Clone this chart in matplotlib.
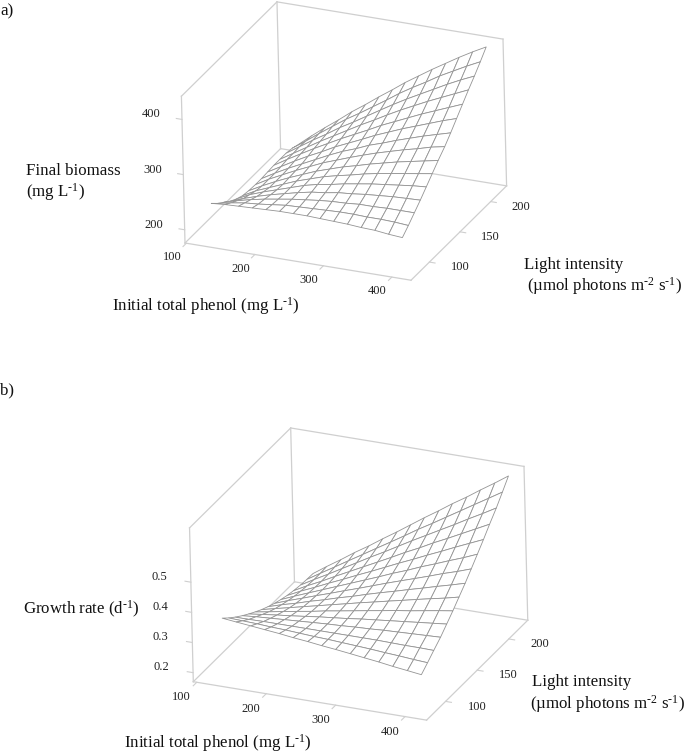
"""Two response surfaces (final biomass and growth rate) over phenol and light."""

import matplotlib
matplotlib.use("Agg")
import matplotlib.pyplot as plt
import numpy as np
from mpl_toolkits.mplot3d import proj3d

plt.rcParams["font.family"] = ["Liberation Serif", "DejaVu Serif"]
plt.rcParams["mathtext.fontset"] = "custom"
plt.rcParams["mathtext.rm"] = "Liberation Serif"
plt.rcParams["mathtext.default"] = "rm"

WIDTH, HEIGHT = 685, 754
BOX_COLOR = "#cfcfcf"
MESH_COLOR = "#949494"
TEXT_COLOR = "#222222"
ROLL = 1.4

phenol_a = [125, 145, 165, 185, 205, 225, 245, 265, 284, 304, 324, 344, 364, 384, 404]
light_a = [84, 94, 104, 114, 124, 134, 144, 155, 165, 175, 185, 195, 205, 215, 225]
phenol_b = [125, 145, 166, 186, 207, 227, 248, 268, 288, 309, 329, 350, 370, 391, 411]
light_b = [85, 95, 105, 116, 126, 136, 146, 156, 166, 176, 186, 196, 207, 217, 227]

# node heights are estimates: corners and edge points,
# the nodes between them judged from those readings
biomass = [
    [238, 240, 241, 242, 243, 244, 244, 244, 243, 242, 241, 239, 238, 235, 233],
    [227, 232, 236, 238, 241, 244, 245, 246, 247, 248, 248, 247, 247, 246, 244],
    [218, 225, 231, 236, 240, 244, 247, 250, 252, 253, 255, 255, 256, 256, 256],
    [209, 218, 226, 233, 239, 245, 250, 253, 257, 259, 262, 264, 266, 267, 268],
    [202, 214, 223, 231, 239, 247, 253, 257, 262, 266, 270, 273, 276, 279, 281],
    [197, 210, 220, 230, 240, 248, 256, 262, 267, 273, 278, 282, 286, 290, 294],
    [195, 208, 220, 231, 241, 251, 259, 267, 273, 280, 286, 292, 297, 302, 307],
    [194, 208, 220, 232, 243, 254, 263, 272, 280, 288, 295, 302, 308, 315, 320],
    [194, 208, 221, 233, 245, 257, 268, 277, 287, 295, 304, 312, 320, 327, 334],
    [195, 209, 223, 236, 248, 261, 272, 283, 294, 304, 314, 323, 332, 341, 349],
    [196, 211, 225, 239, 252, 265, 277, 289, 301, 312, 323, 334, 344, 354, 364],
    [196, 211, 226, 241, 255, 269, 283, 296, 309, 322, 334, 346, 357, 368, 379],
    [196, 212, 228, 243, 259, 273, 288, 303, 317, 331, 344, 357, 370, 382, 393],
    [194, 211, 229, 246, 263, 278, 294, 310, 326, 341, 355, 370, 383, 396, 408],
    [190, 210, 229, 247, 266, 283, 301, 318, 335, 351, 367, 382, 397, 411, 424],
]
growth = [
    [.361, .356, .351, .346, .341, .335, .330, .324, .319, .313, .307, .301, .294, .288, .282],
    [.341, .339, .337, .334, .332, .329, .326, .324, .321, .318, .315, .311, .308, .304, .301],
    [.323, .323, .324, .324, .324, .324, .324, .324, .324, .324, .324, .323, .322, .322, .321],
    [.305, .309, .312, .315, .318, .321, .324, .326, .329, .331, .334, .336, .338, .340, .342],
    [.290, .296, .302, .307, .313, .319, .324, .329, .335, .340, .345, .350, .355, .360, .365],
    [.276, .284, .293, .301, .309, .318, .326, .334, .342, .350, .358, .365, .373, .381, .388],
    [.263, .274, .285, .296, .307, .318, .329, .340, .350, .361, .371, .382, .392, .402, .413],
    [.252, .266, .279, .293, .306, .320, .333, .347, .360, .373, .386, .399, .412, .425, .438],
    [.242, .259, .275, .291, .307, .323, .339, .355, .371, .387, .402, .418, .434, .449, .465],
    [.234, .253, .272, .290, .309, .327, .346, .364, .383, .401, .420, .438, .456, .474, .493],
    [.227, .249, .270, .291, .312, .333, .354, .375, .396, .417, .438, .459, .480, .501, .521],
    [.222, .246, .269, .293, .317, .340, .364, .387, .411, .434, .458, .481, .504, .528, .551],
    [.218, .244, .270, .296, .323, .349, .375, .401, .427, .453, .478, .504, .530, .556, .582],
    [.216, .244, .273, .301, .330, .358, .387, .415, .444, .472, .500, .529, .557, .586, .614],
    [.215, .246, .277, .308, .338, .369, .400, .431, .462, .493, .524, .554, .585, .616, .647],
]

phenol_ticks = [100, 200, 300, 400]
light_ticks = [100, 150, 200]
biomass_ticks = [200, 300, 400]
growth_ticks = [0.2, 0.3, 0.4, 0.5]


def to_pixels(ax, x, y, z):
    """Display position of one 3D data point."""
    u, v, _ = proj3d.proj_transform(np.array([x]), np.array([y]), np.array([z]), ax.get_proj())
    return ax.transData.transform((u[0], v[0]))


def fit_axes(ax, low_px, high_px):
    """Place the axes so the (min,min,min) and (max,max,max) box corners land on these pixels."""
    ax.set_position([0.1, 0.1, 0.5, 0.5])
    ax.apply_aspect()
    x0, x1 = ax.get_xlim()
    y0, y1 = ax.get_ylim()
    z0, z1 = ax.get_zlim()
    low = to_pixels(ax, x0, y0, z0)
    high = to_pixels(ax, x1, y1, z1)
    box = ax.get_window_extent()
    scale = (high_px[0] - low_px[0]) / (high[0] - low[0])
    side = box.width * scale
    left = low_px[0] - (low[0] - box.x0) * scale
    bottom = (HEIGHT - low_px[1]) - (low[1] - box.y0) * scale
    ax.set_position([left / WIDTH, bottom / HEIGHT, side / WIDTH, side / HEIGHT])
    ax.apply_aspect()


def tick_label(fig, ax, x, y, z, s):
    px = to_pixels(ax, x, y, z)
    fig.text(px[0] / WIDTH, px[1] / HEIGHT, s, color=TEXT_COLOR, fontsize=9, ha="center", va="center")


def draw_panel(fig, phenol, light, z_values, xlim, ylim, zlim, z_ticks, z_format, aspect, corners):
    ax = fig.add_axes([0.1, 0.1, 0.5, 0.5], projection="3d", computed_zorder=False)
    ax.set_proj_type("ortho")
    ax.set_box_aspect(aspect)
    ax.view_init(elev=25.0, azim=-65.8, roll=ROLL)
    ax.set_xlim(*xlim)
    ax.set_ylim(*ylim)
    ax.set_zlim(*zlim)
    ax.set_axis_off()
    ax.patch.set_visible(False)
    fit_axes(ax, *corners)

    x0, x1 = xlim
    y0, y1 = ylim
    z0, z1 = zlim
    edges = [
        ((x0, x1), (y0, y0), (z0, z0)),
        ((x1, x1), (y0, y1), (z0, z0)),
        ((x0, x1), (y1, y1), (z0, z0)),
        ((x0, x0), (y0, y1), (z0, z0)),
        ((x0, x0), (y0, y0), (z0, z1)),
        ((x0, x0), (y1, y1), (z0, z1)),
        ((x1, x1), (y1, y1), (z0, z1)),
        ((x0, x0), (y0, y1), (z1, z1)),
        ((x0, x1), (y1, y1), (z1, z1)),
    ]
    for ex, ey, ez in edges:
        ax.plot(ex, ey, ez, color=BOX_COLOR, lw=0.9, zorder=1)

    x_span = x1 - x0
    y_span = y1 - y0
    for t in phenol_ticks:
        ax.plot([t, t], [y0, y0 - 0.035 * y_span], [z0, z0], color=BOX_COLOR, lw=0.8, zorder=1)
        tick_label(fig, ax, t, y0 - 0.15 * y_span, z0, str(t))
    for t in light_ticks:
        ax.plot([x1, x1 + 0.025 * x_span], [t, t], [z0, z0], color=BOX_COLOR, lw=0.8, zorder=1)
        tick_label(fig, ax, x1 + 0.135 * x_span, t, z0, str(t))
    for t in z_ticks:
        ax.plot([x0, x0 - 0.025 * x_span], [y0, y0], [t, t], color=BOX_COLOR, lw=0.8, zorder=1)
        tick_label(fig, ax, x0 - 0.135 * x_span, y0, t, z_format.format(t))

    X, Y = np.meshgrid(phenol, light)
    ax.plot_surface(X, Y, np.array(z_values), rstride=1, cstride=1, color="white", shade=False,
                    edgecolor=MESH_COLOR, linewidth=0.6, antialiased=True, zorder=2)
    return ax


def label(fig, x_px, y_px, s):
    fig.text(x_px / WIDTH, 1 - y_px / HEIGHT, s, fontsize=12.2, color="#111111", ha="left", va="center")


fig = plt.figure(figsize=(WIDTH / 100, HEIGHT / 100), dpi=100, facecolor="white")

draw_panel(fig, phenol_a, light_a, biomass, (98, 428), (70, 226), (176, 442), biomass_ticks, "{:d}",
           (246, 238, 161.5), ((185, 243), (503, 37)))
draw_panel(fig, phenol_b, light_b, growth, (95, 431), (70, 230), (0.170, 0.680), growth_ticks, "{:.1f}",
           (255, 253, 170), ((193.3, 681.7), (524, 466.7)))

label(fig, 0, 11, "a)")
label(fig, 26, 171, "Final biomass")
label(fig, 26, 192, r"(mg L$^{\text{-}1}$)")
label(fig, 112, 306, r"Initial total phenol (mg L$^{\text{-}1}$)")
label(fig, 524, 265, "Light intensity")
label(fig, 527, 286, r"(µmol photons m$^{\text{-}2}$ s$^{\text{-}1}$)")

label(fig, 0, 390, "b)")
label(fig, 23, 609, r"Growth rate (d$^{\text{-}1}$)")
label(fig, 124, 743, r"Initial total phenol (mg L$^{\text{-}1}$)")
label(fig, 532, 682, "Light intensity")
label(fig, 530, 704, r"(µmol photons m$^{\text{-}2}$ s$^{\text{-}1}$)")

fig.savefig("out.png", dpi=100)
plt.close(fig)
